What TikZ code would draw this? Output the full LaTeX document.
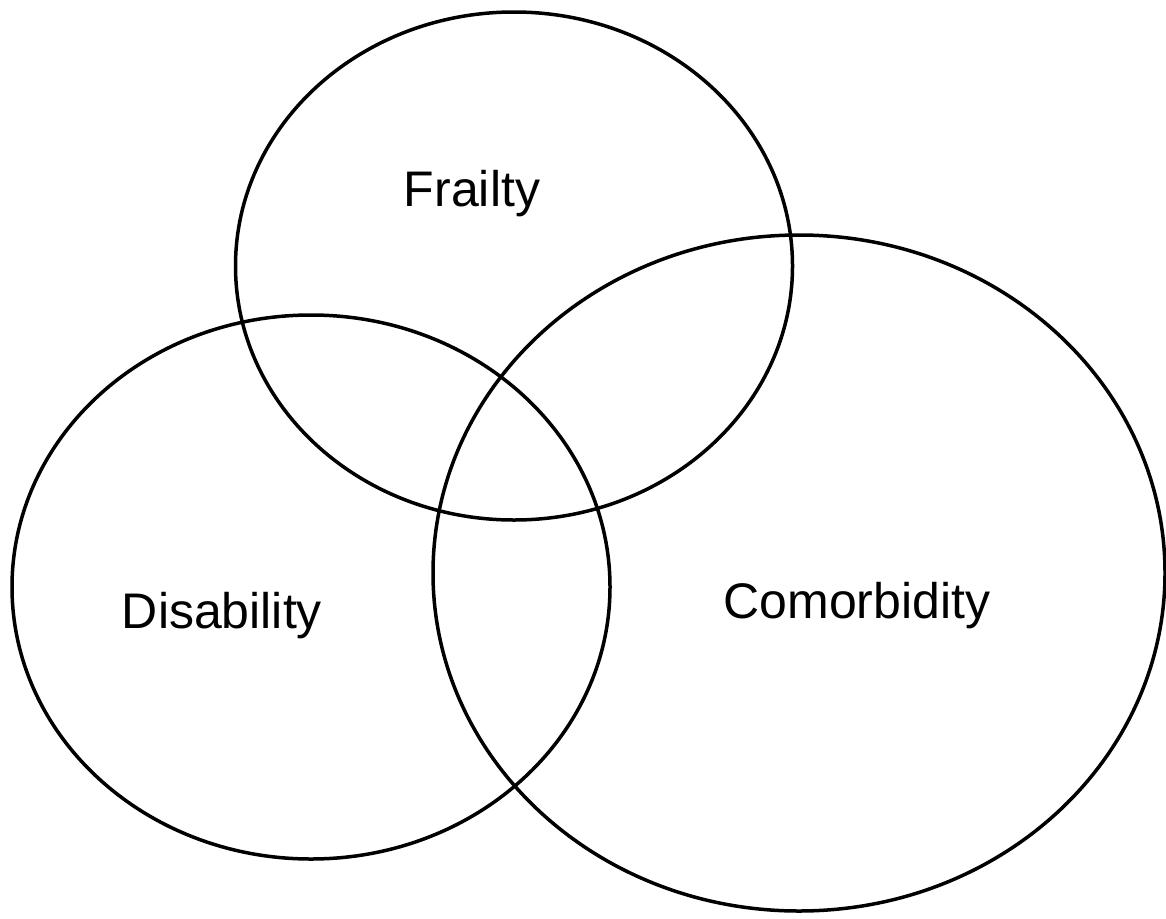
\documentclass[tikz,border=0pt]{standalone}
\usepackage{fontspec}
\setmainfont{Liberation Sans}
\begin{document}
\begin{tikzpicture}[x=1pt,y=-1pt,
  setring/.style={draw=black,line width=3.5pt},
  setlabel/.style={anchor=base,inner sep=0pt,font=\fontsize{50}{54}\selectfont}]
\useasboundingbox (0,0) rectangle (1166,918);
% the three overlapping sets
\draw[setring] (514,266) ellipse [x radius=278.5, y radius=254];
\draw[setring] (311,587) ellipse [x radius=299, y radius=272];
\draw[setring] (799,573) ellipse [x radius=366, y radius=338];
% set names
\node[setlabel] (frailty) at (472,206) {Frailty};
\node[setlabel] (disability) at (222,628) {Disability};
\node[setlabel] (comorbidity) at (857,618) {Comorbidity};
\end{tikzpicture}
\end{document}
